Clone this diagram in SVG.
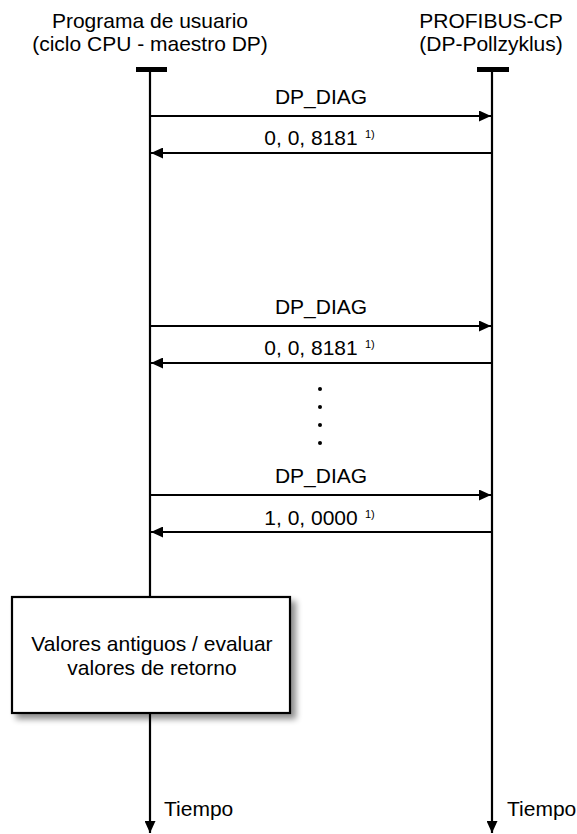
<svg xmlns="http://www.w3.org/2000/svg" width="577" height="834" viewBox="0 0 577 834">
<defs>
<marker id="ah" markerWidth="12" markerHeight="11" refX="12" refY="5.5" orient="auto" markerUnits="userSpaceOnUse">
<path d="M0,0 L12,5.5 L0,11 Z" fill="#000"/>
</marker>
<filter id="sh" x="-10%" y="-10%" width="130%" height="130%">
<feGaussianBlur in="SourceAlpha" stdDeviation="3"/>
<feOffset dx="5" dy="5"/>
<feComponentTransfer><feFuncA type="linear" slope="0.45"/></feComponentTransfer>
<feMerge><feMergeNode/><feMergeNode in="SourceGraphic"/></feMerge>
</filter>
</defs>
<style>
text{font-family:"Liberation Sans",Arial,sans-serif;font-size:21px;fill:#000}
.c{text-anchor:middle}
.sup{font-size:11px}
.ln{stroke:#000;stroke-width:2.2;fill:none}
.bar{stroke:#000;stroke-width:5}
</style>
<rect width="577" height="834" fill="#fff"/>
<g id="user">
<text class="c" x="150" y="28">Programa de usuario</text>
<text class="c" x="150" y="51">(ciclo CPU - maestro DP)</text>
<line class="bar" x1="136" y1="69.5" x2="167" y2="69.5"/>
</g>
<g id="cp">
<text class="c" x="491" y="28">PROFIBUS-CP</text>
<text class="c" x="491" y="51">(DP-Pollzyklus)</text>
<line class="bar" x1="477" y1="69.5" x2="509" y2="69.5"/>
</g>
<g id="connectors">
<line class="ln" x1="150" y1="69" x2="150" y2="597"/>
<line class="ln" x1="150" y1="713" x2="150" y2="833" marker-end="url(#ah)"/>
<line class="ln" x1="492" y1="69" x2="492" y2="833" marker-end="url(#ah)"/>
<line class="ln" x1="150" y1="116" x2="491" y2="116" marker-end="url(#ah)"/>
<line class="ln" x1="492" y1="153" x2="151" y2="153" marker-end="url(#ah)"/>
<line class="ln" x1="150" y1="326" x2="491" y2="326" marker-end="url(#ah)"/>
<line class="ln" x1="492" y1="363" x2="151" y2="363" marker-end="url(#ah)"/>
<line class="ln" x1="150" y1="495" x2="491" y2="495" marker-end="url(#ah)"/>
<line class="ln" x1="492" y1="532" x2="151" y2="532" marker-end="url(#ah)"/>
</g>
<g id="labels">
<text class="c" x="321" y="104">DP_DIAG</text>
<text class="c" x="311" y="145">0, 0, 8181</text>
<text class="sup" x="365" y="138">1)</text>
<text class="c" x="321" y="314">DP_DIAG</text>
<text class="c" x="311" y="355">0, 0, 8181</text>
<text class="sup" x="365" y="348">1)</text>
<text class="c" x="321" y="483">DP_DIAG</text>
<text class="c" x="311" y="525">1, 0, 0000</text>
<text class="sup" x="365" y="518">1)</text>
</g>
<g id="dots" fill="#000">
<circle cx="320" cy="389" r="2"/>
<circle cx="320" cy="407" r="2"/>
<circle cx="320" cy="425" r="2"/>
<circle cx="320" cy="443" r="2"/>
</g>
<g id="evaluate">
<rect x="12" y="597" width="278" height="116" fill="#fff" stroke="#000" stroke-width="2.2" filter="url(#sh)"/>
<text class="c" x="152" y="651">Valores antiguos / evaluar</text>
<text class="c" x="152" y="675">valores de retorno</text>
</g>
<g id="time">
<text x="164" y="816">Tiempo</text>
<text x="507" y="816">Tiempo</text>
</g>
</svg>
